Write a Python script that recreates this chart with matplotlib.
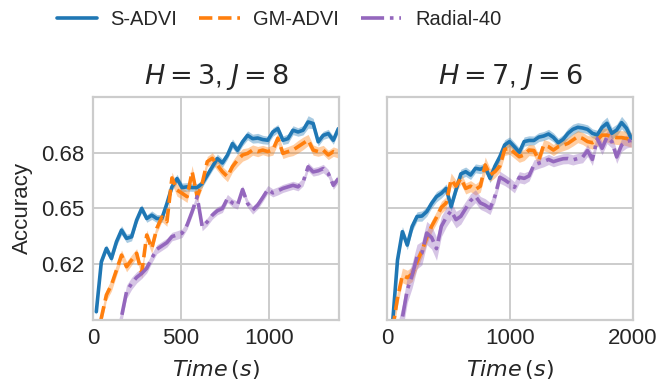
import numpy as np
import matplotlib
matplotlib.use('Agg')
import matplotlib.pyplot as plt
import seaborn as sns

sns.set_style('whitegrid')
plt.rcParams['font.family'] = ['Liberation Sans', 'DejaVu Sans']
plt.rcParams['mathtext.fontset'] = 'dejavusans'

labels = ['S-ADVI', 'GM-ADVI', 'Radial-40']
colors = ['#1f77b4', '#ff7f0e', '#9467bd']
styles = ['-', '--', '-.']
titles = ['$H=3$, $J=8$', '$H=7$, $J=6$']

# time grid (s)
t_left = 19 + 28.7 * np.arange(49)
t_right = 45 + 39.6 * np.arange(50)

# H=3, J=8
left_sadvi = [0.6037, 0.6261, 0.6321, 0.6276, 0.6351, 0.6403, 0.6366, 0.6373, 0.6448, 0.6500,
              0.6455, 0.6470, 0.6455, 0.6455, 0.6522, 0.6597, 0.6634, 0.6594, 0.6597, 0.6594,
              0.6594, 0.6612, 0.6649, 0.6687, 0.6724, 0.6704, 0.6739, 0.6791, 0.6761, 0.6799,
              0.6828, 0.6813, 0.6816, 0.6809, 0.6806, 0.6843, 0.6858, 0.6806, 0.6813, 0.6851,
              0.6843, 0.6851, 0.6888, 0.6881, 0.6799, 0.6828, 0.6836, 0.6806, 0.6858]
left_gmadvi = [0.5920, 0.6010, 0.6112, 0.6157, 0.6224, 0.6291, 0.6239, 0.6269, 0.6299, 0.6209,
               0.6381, 0.6321, 0.6411, 0.6462, 0.6441, 0.6637, 0.6583, 0.6568, 0.6553, 0.6665,
               0.6553, 0.6613, 0.6710, 0.6725, 0.6695, 0.6665, 0.6643, 0.6688, 0.6717, 0.6740,
               0.6747, 0.6762, 0.6755, 0.6762, 0.6755, 0.6762, 0.6815, 0.6747, 0.6755, 0.6762,
               0.6777, 0.6792, 0.6807, 0.6762, 0.6755, 0.6762, 0.6740, 0.6755, 0.6747]
left_radial = [0.5700, 0.5760, 0.5820, 0.5880, 0.5940, 0.6015, 0.6127, 0.6164, 0.6191, 0.6209,
               0.6232, 0.6277, 0.6317, 0.6332, 0.6347, 0.6374, 0.6381, 0.6389, 0.6426, 0.6486,
               0.6553, 0.6418, 0.6440, 0.6470, 0.6490, 0.6500, 0.6545, 0.6525, 0.6515, 0.6585,
               0.6522, 0.6493, 0.6515, 0.6549, 0.6585, 0.6570, 0.6579, 0.6590, 0.6597, 0.6604,
               0.6597, 0.6619, 0.6687, 0.6664, 0.6669, 0.6679, 0.6657, 0.6604, 0.6634]
left_sadvi_err = [0.0016, 0.0016, 0.0016, 0.0017, 0.0019, 0.0020, 0.0019, 0.0018, 0.0017, 0.0017,
                  0.0017, 0.0019, 0.0018, 0.0017, 0.0017, 0.0017, 0.0019, 0.0020, 0.0019, 0.0017,
                  0.0017, 0.0017, 0.0017, 0.0017, 0.0020, 0.0019, 0.0018, 0.0021, 0.0018, 0.0018,
                  0.0020, 0.0020, 0.0021, 0.0019, 0.0018, 0.0019, 0.0018, 0.0019, 0.0021, 0.0020,
                  0.0019, 0.0021, 0.0028, 0.0023, 0.0019, 0.0018, 0.0019, 0.0018, 0.0017]
left_gmadvi_err = [0.0025, 0.0025, 0.0025, 0.0027, 0.0025, 0.0023, 0.0023, 0.0023, 0.0021, 0.0021,
                   0.0023, 0.0023, 0.0021, 0.0021, 0.0021, 0.0026, 0.0028, 0.0026, 0.0026, 0.0028,
                   0.0023, 0.0021, 0.0023, 0.0025, 0.0025, 0.0023, 0.0023, 0.0025, 0.0028, 0.0028,
                   0.0025, 0.0023, 0.0023, 0.0021, 0.0021, 0.0023, 0.0026, 0.0023, 0.0023, 0.0025,
                   0.0028, 0.0028, 0.0025, 0.0023, 0.0021, 0.0021, 0.0021, 0.0021, 0.0021]
left_radial_err = [0.0030, 0.0030, 0.0030, 0.0030, 0.0030, 0.0030, 0.0030, 0.0027, 0.0025, 0.0023,
                   0.0021, 0.0021, 0.0020, 0.0020, 0.0020, 0.0019, 0.0019, 0.0019, 0.0019, 0.0019,
                   0.0019, 0.0018, 0.0018, 0.0018, 0.0018, 0.0018, 0.0018, 0.0018, 0.0018, 0.0018,
                   0.0018, 0.0018, 0.0018, 0.0018, 0.0018, 0.0018, 0.0018, 0.0018, 0.0018, 0.0018,
                   0.0018, 0.0018, 0.0019, 0.0019, 0.0019, 0.0019, 0.0018, 0.0018, 0.0018]

# H=7, J=6
right_sadvi = [0.5990, 0.6269, 0.6396, 0.6336, 0.6419, 0.6464, 0.6466, 0.6486, 0.6523, 0.6553,
               0.6568, 0.6590, 0.6508, 0.6583, 0.6655, 0.6665, 0.6650, 0.6680, 0.6676, 0.6685,
               0.6635, 0.6690, 0.6732, 0.6785, 0.6800, 0.6777, 0.6752, 0.6800, 0.6805, 0.6805,
               0.6820, 0.6825, 0.6834, 0.6819, 0.6795, 0.6810, 0.6837, 0.6855, 0.6864, 0.6861,
               0.6855, 0.6837, 0.6830, 0.6864, 0.6882, 0.6837, 0.6852, 0.6885, 0.6860, 0.6815]
right_gmadvi = [0.5960, 0.6100, 0.6200, 0.6190, 0.6205, 0.6260, 0.6310, 0.6370, 0.6420, 0.6460,
                0.6505, 0.6525, 0.6630, 0.6600, 0.6635, 0.6590, 0.6600, 0.6585, 0.6600, 0.6695,
                0.6650, 0.6665, 0.6690, 0.6765, 0.6770, 0.6750, 0.6732, 0.6740, 0.6762, 0.6760,
                0.6717, 0.6784, 0.6777, 0.6762, 0.6777, 0.6784, 0.6792, 0.6807, 0.6822, 0.6814,
                0.6800, 0.6795, 0.6807, 0.6829, 0.6829, 0.6822, 0.6818, 0.6818, 0.6814, 0.6807]
right_radial = [0.5850, 0.5920, 0.6010, 0.6135, 0.6200, 0.6284, 0.6300, 0.6390, 0.6370, 0.6320,
                0.6420, 0.6460, 0.6490, 0.6450, 0.6465, 0.6500, 0.6535, 0.6555, 0.6525, 0.6515,
                0.6500, 0.6555, 0.6640, 0.6628, 0.6613, 0.6595, 0.6640, 0.6635, 0.6646, 0.6695,
                0.6703, 0.6710, 0.6720, 0.6710, 0.6717, 0.6723, 0.6724, 0.6718, 0.6724, 0.6730,
                0.6760, 0.6720, 0.6813, 0.6770, 0.6820, 0.6800, 0.6731, 0.6784, 0.6800, 0.6806]
right_sadvi_err = [0.0025, 0.0025, 0.0023, 0.0021, 0.0021, 0.0021, 0.0023, 0.0021, 0.0021, 0.0023,
                   0.0021, 0.0020, 0.0020, 0.0020, 0.0021, 0.0021, 0.0020, 0.0020, 0.0020, 0.0020,
                   0.0020, 0.0020, 0.0020, 0.0023, 0.0021, 0.0020, 0.0020, 0.0021, 0.0021, 0.0020,
                   0.0020, 0.0020, 0.0021, 0.0020, 0.0020, 0.0021, 0.0023, 0.0023, 0.0021, 0.0020,
                   0.0020, 0.0020, 0.0021, 0.0026, 0.0028, 0.0026, 0.0026, 0.0028, 0.0026, 0.0023]
right_gmadvi_err = [0.0035, 0.0035, 0.0033, 0.0033, 0.0033, 0.0031, 0.0029, 0.0029, 0.0027, 0.0027,
                    0.0027, 0.0027, 0.0029, 0.0027, 0.0025, 0.0025, 0.0025, 0.0025, 0.0027, 0.0036,
                    0.0029, 0.0027, 0.0027, 0.0027, 0.0027, 0.0025, 0.0025, 0.0025, 0.0025, 0.0025,
                    0.0025, 0.0025, 0.0025, 0.0025, 0.0025, 0.0025, 0.0025, 0.0027, 0.0027, 0.0027,
                    0.0027, 0.0029, 0.0029, 0.0031, 0.0031, 0.0031, 0.0031, 0.0031, 0.0033, 0.0033]
right_radial_err = [0.0060, 0.0060, 0.0060, 0.0058, 0.0056, 0.0055, 0.0053, 0.0052, 0.0052, 0.0052,
                    0.0046, 0.0043, 0.0040, 0.0037, 0.0035, 0.0033, 0.0031, 0.0029, 0.0029, 0.0029,
                    0.0027, 0.0027, 0.0027, 0.0025, 0.0025, 0.0025, 0.0025, 0.0025, 0.0023, 0.0023,
                    0.0023, 0.0023, 0.0023, 0.0023, 0.0023, 0.0023, 0.0023, 0.0023, 0.0023, 0.0025,
                    0.0027, 0.0027, 0.0029, 0.0029, 0.0029, 0.0029, 0.0029, 0.0029, 0.0029, 0.0029]

panels = [
    (t_left, [left_sadvi, left_gmadvi, left_radial],
     [left_sadvi_err, left_gmadvi_err, left_radial_err], (0, 1400), [0, 500, 1000]),
    (t_right, [right_sadvi, right_gmadvi, right_radial],
     [right_sadvi_err, right_gmadvi_err, right_radial_err], (0, 2000), [0, 1000, 2000]),
]

fig = plt.figure(figsize=(6.64, 3.89), dpi=100)
ax1 = fig.add_axes([0.140, 0.1774, 0.3705, 0.5733])
ax2 = fig.add_axes([0.583, 0.1774, 0.3705, 0.5733], sharey=ax1)
axes = [ax1, ax2]

for ax, (t, series, errs, xlim, xt), title in zip(axes, panels, titles):
    for y, e, c, ls, lab in zip(series, errs, colors, styles, labels):
        y = np.array(y)
        e = np.array(e)
        ax.fill_between(t, y - e, y + e, color=c, alpha=0.38, lw=0)
        ax.plot(t, y, color=c, ls=ls, lw=2.6, label=lab)
    ax.set_xlim(*xlim)
    ax.set_xticks(xt)
    ax.set_title(title, fontsize=19.5, pad=9)
    ax.set_xlabel(r'$Time\,(s)$', fontsize=16, labelpad=6)
    ax.grid(True, color='#cccccc', lw=1.4)
    for s in ax.spines.values():
        s.set_color('#cccccc')
        s.set_linewidth(1.6)
    ax.tick_params(labelsize=16, length=0, pad=6)

ax1.set_ylim(0.6, 0.7)
ax1.set_yticks([0.625, 0.65, 0.675])
ax1.set_yticklabels(['%.2f' % v for v in [0.625, 0.65, 0.675]])
ax1.set_ylabel('Accuracy', fontsize=16, labelpad=6)
plt.setp(ax2.get_yticklabels(), visible=False)

handles, labs = ax1.get_legend_handles_labels()
fig.legend(handles, labs, loc='upper center', bbox_to_anchor=(0.42, 1.02), ncol=3,
           frameon=False, fontsize=14.5, handlelength=2.0, columnspacing=1.1, handletextpad=0.67)

fig.savefig('out.png', dpi=100)
